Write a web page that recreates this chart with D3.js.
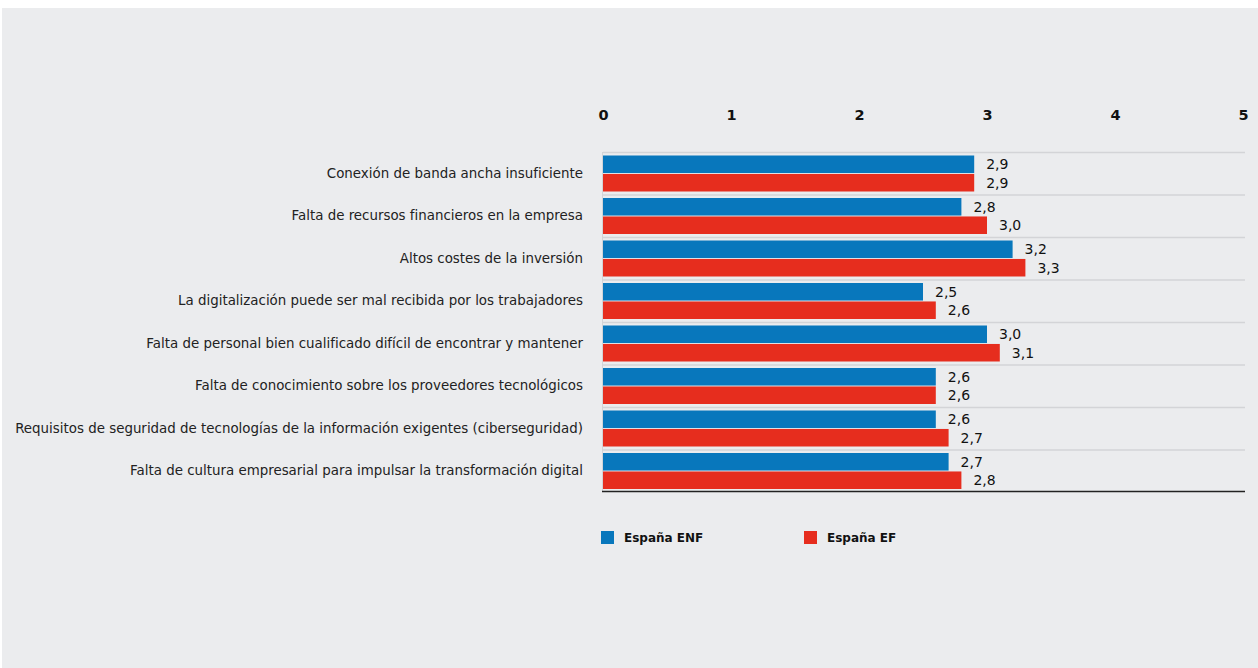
<!DOCTYPE html>
<html lang="es">
<head>
<meta charset="UTF-8">
<title>Barreras para la digitalización</title>
<script src="https://d3js.org/d3.v7.min.js"></script>
<style>
    body { margin: 0; background: #fff; }
    #panel {
        position: absolute; left: 2px; top: 8px;
        width: 1256px; height: 660px;
        background: #ebecee;
    }
    svg { font-family: "DejaVu Sans", "Open Sans", Arial, sans-serif; }
</style>
</head>
<body>
<div id="panel"></div>
<script>
const categories = [
    "Conexión de banda ancha insuficiente",
    "Falta de recursos financieros en la empresa",
    "Altos costes de la inversión",
    "La digitalización puede ser mal recibida por los trabajadores",
    "Falta de personal bien cualificado difícil de encontrar y mantener",
    "Falta de conocimiento sobre los proveedores tecnológicos",
    "Requisitos de seguridad de tecnologías de la información exigentes (ciberseguridad)",
    "Falta de cultura empresarial para impulsar la transformación digital"
];
const seriesNames = ["España ENF", "España EF"];
const valuesENF = [2.9, 2.8, 3.2, 2.5, 3.0, 2.6, 2.6, 2.7];
const valuesEF = [2.9, 3.0, 3.3, 2.6, 3.1, 2.6, 2.7, 2.8];
const xTicks = [0, 1, 2, 3, 4, 5];

const colors = ["#0877bc", "#e62d1e"];
const W = 1256, H = 660;
// panel is offset by (2, 8) on the page
const svg = d3.select("#panel").append("svg").attr("width", W).attr("height", H);
const g = svg.append("g").attr("transform", "translate(-2,-8)");

const x = d3.scaleLinear().domain([0, 5]).range([603, 1243]);
const y = d3.scaleBand().domain(categories).range([152, 492]);
const yInner = d3.scaleBand().domain(seriesNames).range([3.5, 39.5]).paddingInner(0.05);

const rows = categories.map((c, i) => ({
    cat: c,
    vals: [
        { s: seriesNames[0], v: valuesENF[i], c: colors[0] },
        { s: seriesNames[1], v: valuesEF[i], c: colors[1] }
    ]
}));

// separators between rows
g.append("g").selectAll("line")
    .data(categories)
    .join("line")
    .attr("x1", x(0)).attr("x2", x(5) + 2)
    .attr("y1", d => y(d) + 0.5).attr("y2", d => y(d) + 0.5)
    .attr("stroke", "#d3d4d7").attr("stroke-width", 1.5);

// left faint axis
g.append("line")
    .attr("x1", x(0) - 0.5).attr("x2", x(0) - 0.5)
    .attr("y1", y.range()[0]).attr("y2", y.range()[1])
    .attr("stroke", "#d3d4d7");

// top axis labels
const xAxis = g.append("g")
    .attr("transform", "translate(0,115)")
    .call(d3.axisTop(x).tickValues(xTicks).tickSize(0).tickPadding(0).tickFormat(d3.format("d")));
xAxis.select(".domain").remove();
xAxis.selectAll("text")
    .attr("font-size", 14.5).attr("font-weight", 700).attr("fill", "#111")
    .attr("dy", "0.35em")
    .attr("font-family", "'DejaVu Sans', Arial, sans-serif");

// category labels
g.append("g").selectAll("text")
    .data(categories)
    .join("text")
    .attr("x", 583)
    .attr("y", d => y(d) + y.bandwidth() / 2)
    .attr("dy", "0.35em")
    .attr("text-anchor", "end")
    .attr("font-size", 13.4)
    .attr("fill", "#222")
    .text(d => d);

const rowG = g.append("g").selectAll("g")
    .data(rows)
    .join("g")
    .attr("transform", d => `translate(0,${y(d.cat)})`);

rowG.selectAll("rect")
    .data(d => d.vals)
    .join("rect")
    .attr("x", x(0))
    .attr("y", d => yInner(d.s))
    .attr("width", d => x(d.v) - x(0))
    .attr("height", yInner.bandwidth())
    .attr("fill", d => d.c);

const fmt = v => d3.format(".1f")(v).replace(".", ",");
rowG.selectAll("text")
    .data(d => d.vals)
    .join("text")
    .attr("x", d => x(d.v) + 12)
    .attr("y", d => yInner(d.s) + yInner.bandwidth() / 2)
    .attr("dy", "0.35em")
    .attr("font-size", 14)
    .attr("fill", "#111")
    .text(d => fmt(d.v));

// bottom axis line
g.append("line")
    .attr("x1", x(0) - 1).attr("x2", x(5) + 2)
    .attr("y1", 491.5).attr("y2", 491.5)
    .attr("stroke", "#222").attr("stroke-width", 1.5);

// legend
const legendX = [601, 804];
const leg = g.append("g").selectAll("g")
    .data(seriesNames)
    .join("g")
    .attr("transform", (d, i) => `translate(${legendX[i]},531)`);
leg.append("rect")
    .attr("width", 13).attr("height", 13)
    .attr("fill", (d, i) => colors[i]);
leg.append("text")
    .attr("x", 23).attr("y", 7)
    .attr("dy", "0.35em")
    .attr("font-size", 12)
    .attr("font-weight", 700)
    .attr("fill", "#111")
    .text(d => d);
</script>
</body>
</html>
